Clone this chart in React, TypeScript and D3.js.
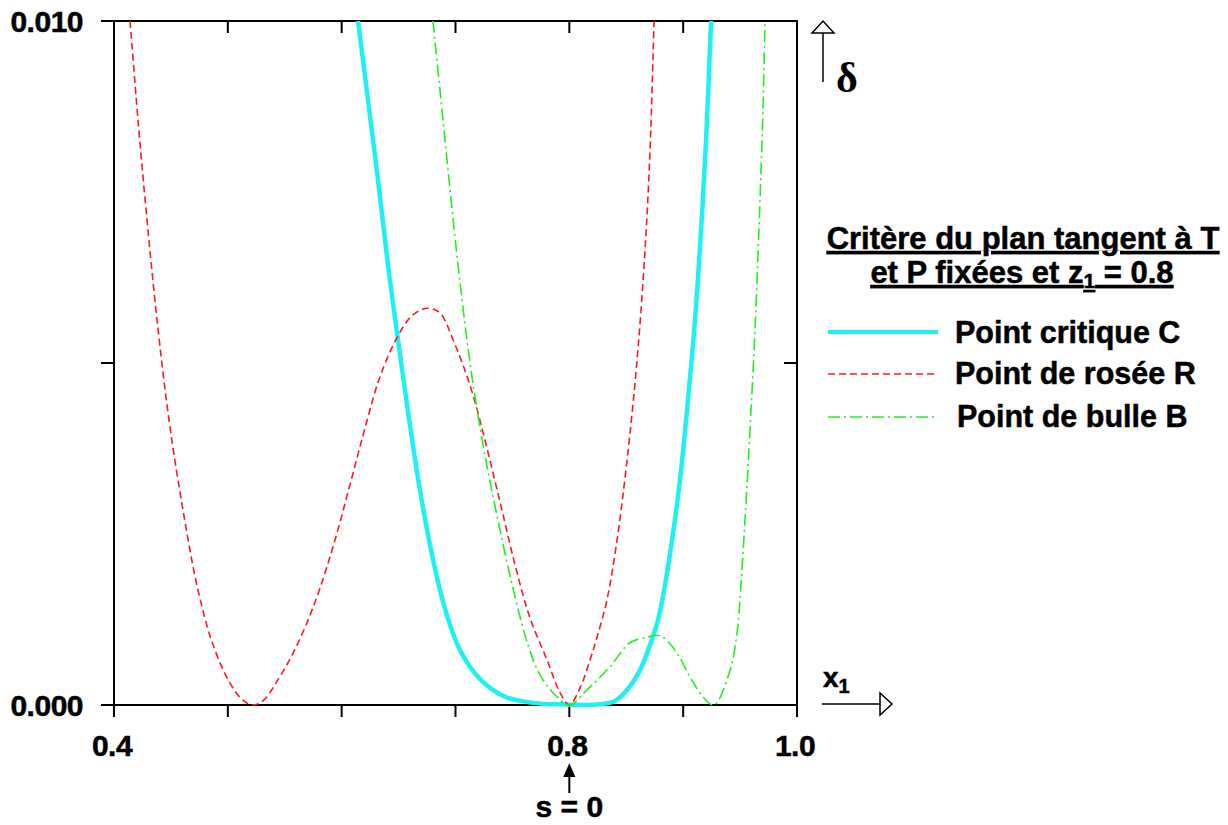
import React from "react";
import * as d3 from "d3";

// ---- Data (x1 mole fraction, delta = tangent plane distance) ----
const X1_C = [0.6144, 0.6231, 0.6319, 0.6407, 0.6495, 0.6600, 0.6688, 0.6776, 0.6864, 0.6952, 0.7040, 0.7127, 0.7215, 0.7303, 0.7435, 0.7567, 0.7742, 0.7918, 0.8094, 0.8269, 0.8401, 0.8507, 0.8621, 0.8709, 0.8779, 0.8840, 0.8902, 0.8972, 0.9042, 0.9104, 0.9157, 0.9201, 0.9245];
const DELTA_C = [0.0100, 0.00885, 0.00768, 0.00643, 0.00534, 0.00409, 0.00314, 0.00234, 0.00168, 0.00117, 0.00080, 0.00056, 0.00038, 0.00025, 0.00012, 0.00006, 0.00002, 0.00001, 0.0, 0.00001, 0.00006, 0.00022, 0.00051, 0.00088, 0.00124, 0.00175, 0.00241, 0.00329, 0.00446, 0.00563, 0.00694, 0.00826, 0.0100];

const X1_R = [0.4141, 0.4211, 0.4290, 0.4378, 0.4483, 0.4606, 0.4738, 0.4870, 0.5019, 0.5133, 0.5221, 0.5309, 0.5441, 0.5564, 0.5687, 0.5810, 0.5941, 0.6073, 0.6205, 0.6337, 0.6486, 0.6618, 0.6750, 0.6864, 0.6978, 0.7066, 0.7154, 0.7259, 0.7391, 0.7523, 0.7655, 0.7804, 0.7918, 0.8000, 0.8094, 0.8182, 0.8243, 0.8331, 0.8419, 0.8507, 0.8595, 0.8665, 0.8709, 0.8744];
const DELTA_R = [0.0100, 0.00855, 0.00709, 0.00563, 0.00417, 0.00285, 0.00168, 0.00088, 0.00032, 0.00007, 0.0, 0.00006, 0.00037, 0.00073, 0.00117, 0.00171, 0.00241, 0.00322, 0.00405, 0.00480, 0.00537, 0.00569, 0.00580, 0.00573, 0.00534, 0.00497, 0.00453, 0.00387, 0.00297, 0.00205, 0.00127, 0.00066, 0.00018, 0.0, 0.00025, 0.00066, 0.00099, 0.00154, 0.00241, 0.00358, 0.00504, 0.00665, 0.00811, 0.0100];

const X1_B = [0.6802, 0.6864, 0.6952, 0.7040, 0.7145, 0.7259, 0.7391, 0.7523, 0.7637, 0.7742, 0.7874, 0.8000, 0.8155, 0.8357, 0.8533, 0.8682, 0.8753, 0.8823, 0.8946, 0.9060, 0.9174, 0.9271, 0.9412, 0.9473, 0.9499, 0.9543, 0.9587, 0.9631, 0.9675, 0.9701, 0.9719];
const DELTA_B = [0.0100, 0.00899, 0.00753, 0.00617, 0.00480, 0.00365, 0.00256, 0.00158, 0.00088, 0.00044, 0.00015, 0.0, 0.00022, 0.00056, 0.00091, 0.00099, 0.00102, 0.00099, 0.00076, 0.00041, 0.00012, 0.0, 0.00051, 0.00105, 0.00154, 0.00270, 0.00402, 0.00548, 0.00738, 0.00870, 0.0100];

const X_TICKS = [0.4, 0.5, 0.6, 0.7, 0.8, 0.9, 1.0];
const X_TICK_LABELS = [
  { v: 0.4, t: "0.4" },
  { v: 0.8, t: "0.8" },
  { v: 1.0, t: "1.0" },
];
const Y_TICKS = [0, 0.005, 0.01];
const Y_TICK_LABELS = [
  { v: 0, t: "0.000" },
  { v: 0.01, t: "0.010" },
];

const SERIES_NAMES = ["Point critique C", "Point de rosée R", "Point de bulle B"];

export default function App() {
  const x = d3.scaleLinear().domain([0.4, 1.0]).range([114, 797]);
  const y = d3.scaleLinear().domain([0, 0.01]).range([705, 21]);

  const mk = (xs: number[], ys: number[]) =>
    d3
      .line<number>()
      .x((_, i) => x(xs[i]))
      .y((_, i) => y(ys[i]))
      .curve(d3.curveCatmullRom.alpha(0.5))(xs) as string;

  const series = [
    { name: SERIES_NAMES[0], d: mk(X1_C, DELTA_C), color: "#1ff0f2", width: 4.5, dash: "none" },
    { name: SERIES_NAMES[1], d: mk(X1_R, DELTA_R), color: "#ff1a1a", width: 1.6, dash: "7,4" },
    { name: SERIES_NAMES[2], d: mk(X1_B, DELTA_B), color: "#22ee22", width: 1.6, dash: "12,4,2,4" },
  ];

  const x0 = x(0.4), x1 = x(1.0), y0 = y(0), y1 = y(0.01);
  const font = "'Liberation Sans', Arial, Helvetica, sans-serif";
  const heavy = { stroke: "#000", strokeWidth: 0.5 };

  return (
    <svg
      width={1228}
      height={825}
      style={{ position: "absolute", left: 0, top: 0, background: "#fff" }}
      fontFamily={font}
    >
      <defs>
        <clipPath id="plotclip">
          <rect x={x0} y={y1} width={x1 - x0} height={y0 - y1 + 4} />
        </clipPath>
      </defs>

      {/* frame */}
      <rect x={x0} y={y1} width={x1 - x0} height={y0 - y1} fill="none" stroke="#000" strokeWidth={2} />

      {/* left ticks (outward) */}
      {Y_TICKS.map((v) => (
        <line key={"yl" + v} x1={x0 - 13} x2={x0} y1={y(v)} y2={y(v)} stroke="#000" strokeWidth={2} />
      ))}
      {/* right ticks (inward, interior) */}
      {Y_TICKS.filter((v) => v > 0 && v < 0.01).map((v) => (
        <line key={"yr" + v} x1={x1 - 13} x2={x1} y1={y(v)} y2={y(v)} stroke="#000" strokeWidth={2} />
      ))}
      {/* bottom ticks (outward) */}
      {X_TICKS.map((v) => (
        <line key={"xb" + v} x1={x(v)} x2={x(v)} y1={y0} y2={y0 + 12} stroke="#000" strokeWidth={2} />
      ))}
      {/* top ticks (inward) */}
      {X_TICKS.filter((v) => v > 0.4 && v < 1.0).map((v) => (
        <line key={"xt" + v} x1={x(v)} x2={x(v)} y1={y1} y2={y1 + 12} stroke="#000" strokeWidth={2} />
      ))}

      {/* tick labels */}
      {Y_TICK_LABELS.map((l) => (
        <text key={"ylab" + l.v} x={83} y={y(l.v) + 11} textAnchor="end" fontSize={30} fontWeight="bold" letterSpacing={-0.5} {...heavy}>
          {l.t}
        </text>
      ))}
      {X_TICK_LABELS.map((l) => (
        <text key={"xlab" + l.v} x={x(l.v) - 2} y={756} textAnchor="middle" fontSize={30} fontWeight="bold" letterSpacing={-0.5} {...heavy}>
          {l.t}
        </text>
      ))}

      {/* curves */}
      <g clipPath="url(#plotclip)">
        {series.map((s) => (
          <path key={s.name} d={s.d} fill="none" stroke={s.color} strokeWidth={s.width} strokeDasharray={s.dash} />
        ))}
      </g>

      {/* s = 0 marker */}
      <line x1={x(0.8)} x2={x(0.8)} y1={793} y2={775} stroke="#000" strokeWidth={2} />
      <polygon points={`${x(0.8) - 6},${777} ${x(0.8)},${763} ${x(0.8) + 6},${777}`} fill="#000" />
      <text x={x(0.8)} y={817} textAnchor="middle" fontSize={30} fontWeight="bold" {...heavy}>
        s = 0
      </text>

      {/* delta axis arrow */}
      <line x1={823} x2={823} y1={82} y2={33} stroke="#000" strokeWidth={1.5} />
      <polygon points="812,33 823,21 834,33" fill="#fff" stroke="#000" strokeWidth={1.5} />
      <text x={836} y={92} fontSize={42} fontWeight="bold" fontFamily="'Liberation Serif', 'DejaVu Serif', serif">
        δ
      </text>

      {/* x1 axis arrow */}
      <line x1={822} x2={880} y1={704} y2={704} stroke="#000" strokeWidth={1.5} />
      <polygon points="880,693 892,704 880,715" fill="#fff" stroke="#000" strokeWidth={1.5} />
      <text x={823} y={687} fontSize={28} fontWeight="bold" {...heavy}>
        x<tspan fontSize={20} dy={6}>1</tspan>
      </text>

      {/* legend */}
      <text x={1023} y={249} textAnchor="middle" fontSize={31} fontWeight="bold" style={{ textDecoration: "underline" }} {...heavy}>
        Critère du plan tangent à T
      </text>
      <text x={1022} y={283} textAnchor="middle" fontSize={31} fontWeight="bold" style={{ textDecoration: "underline" }} {...heavy}>
        et P fixées et z<tspan fontSize={21} dy={5}>1</tspan>
        <tspan dy={-5}> = 0.8</tspan>
      </text>

      {series.map((s, i) => {
        const ly = [332, 374, 417][i];
        const tx = [955, 955, 957][i];
        const ty = [343, 384, 427][i];
        return (
          <g key={"leg" + i}>
            <line x1={828} x2={938} y1={ly} y2={ly} stroke={s.color} strokeWidth={i === 0 ? 4 : 1.6} strokeDasharray={s.dash} />
            <text x={tx} y={ty} fontSize={30.5} fontWeight="bold" {...heavy}>
              {s.name}
            </text>
          </g>
        );
      })}
    </svg>
  );
}
